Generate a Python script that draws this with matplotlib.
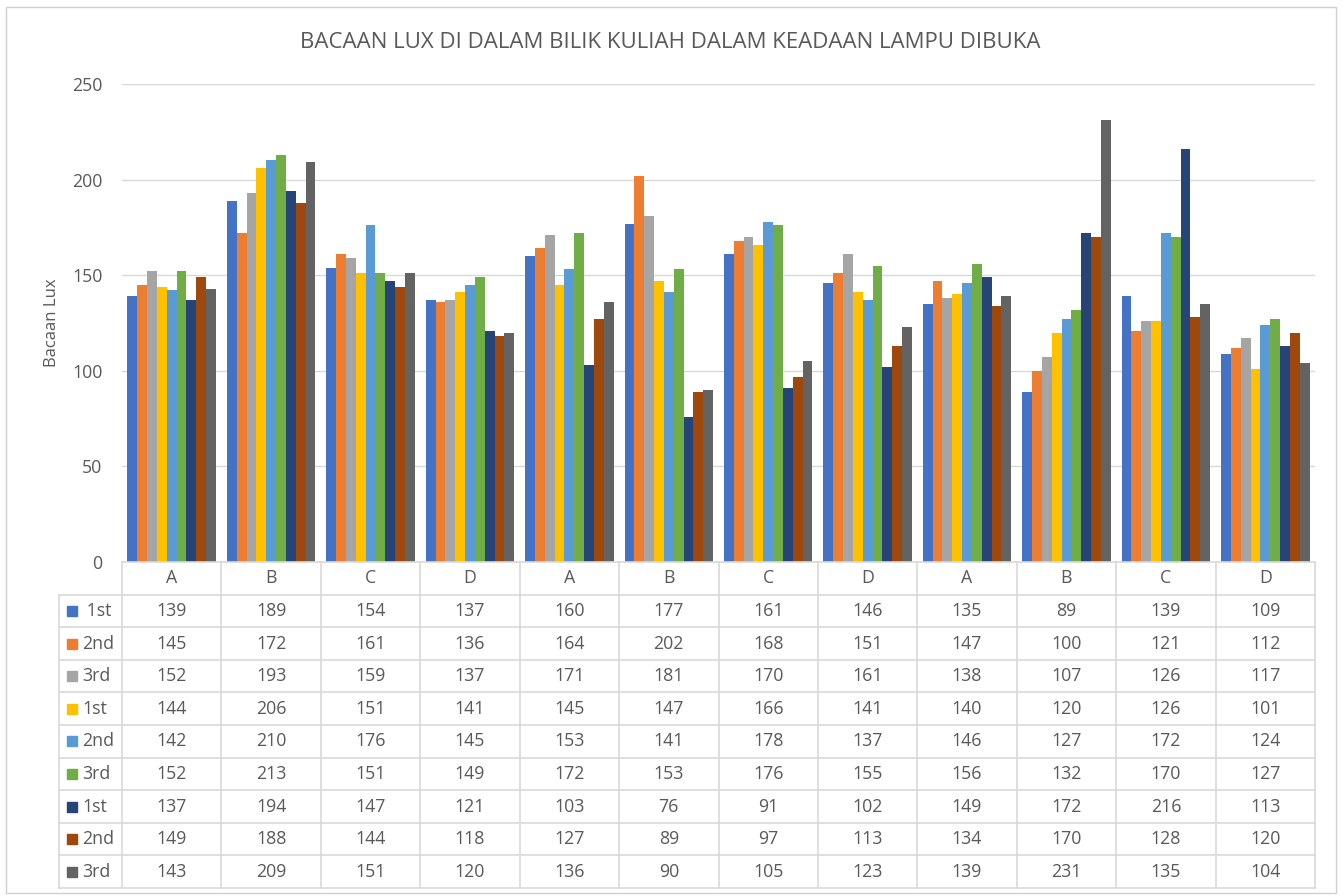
import matplotlib
matplotlib.use("Agg")
import matplotlib.pyplot as plt
from matplotlib.patches import Rectangle

plt.rcParams['font.family'] = ['Open Sans', 'DejaVu Sans']

# lux readings per position, three lecture halls of four positions each
categories = ['A', 'B', 'C', 'D', 'A', 'B', 'C', 'D', 'A', 'B', 'C', 'D']
series_names = [' 1st', '2nd', '3rd', '1st', '2nd', '3rd', '1st', '2nd', '3rd']

s1 = [139, 189, 154, 137, 160, 177, 161, 146, 135, 89, 139, 109]
s2 = [145, 172, 161, 136, 164, 202, 168, 151, 147, 100, 121, 112]
s3 = [152, 193, 159, 137, 171, 181, 170, 161, 138, 107, 126, 117]
s4 = [144, 206, 151, 141, 145, 147, 166, 141, 140, 120, 126, 101]
s5 = [142, 210, 176, 145, 153, 141, 178, 137, 146, 127, 172, 124]
s6 = [152, 213, 151, 149, 172, 153, 176, 155, 156, 132, 170, 127]
s7 = [137, 194, 147, 121, 103, 76, 91, 102, 149, 172, 216, 113]
s8 = [149, 188, 144, 118, 127, 89, 97, 113, 134, 170, 128, 120]
s9 = [143, 209, 151, 120, 136, 90, 105, 123, 139, 231, 135, 104]
series = [s1, s2, s3, s4, s5, s6, s7, s8, s9]

colors = ['#4472C4', '#ED7D31', '#A5A5A5', '#FFC000', '#5B9BD5',
          '#70AD47', '#264478', '#9E480E', '#636363']

TXT = '#595959'
GRID = '#D9D9D9'
W, H = 1343, 896
FS = 12.8


def box(x0, y0, x1, y1):
    # pixel box (top-left origin) -> figure fraction rect
    return [x0 / W, 1 - y1 / H, (x1 - x0) / W, (y1 - y0) / H]


fig = plt.figure(figsize=(W / 100, H / 100), dpi=100)
fig.patches.append(Rectangle((6 / W, 1 - 893 / H), 1330 / W, 886 / H,
                             transform=fig.transFigure, fill=False,
                             edgecolor='#D0D0D0', linewidth=1))

fig.text(670 / W, 1 - 43 / H, 'BACAAN LUX DI DALAM BILIK KULIAH DALAM KEADAAN LAMPU DIBUKA',
         ha='center', va='center', fontsize=16, color=TXT)

# bar chart
plot_l, plot_r, plot_t, plot_b = 122, 1315, 84, 562
ax = fig.add_axes(box(plot_l, plot_t, plot_r, plot_b))
n = len(series)
bw = 0.89 / n
x = range(len(categories))
for k, vals in enumerate(series):
    pos = [i - 0.445 + bw * (k + 0.5) for i in x]
    ax.bar(pos, vals, width=bw, color=colors[k], zorder=3)
ax.set_xlim(-0.5, len(categories) - 0.5)
ax.set_ylim(0, 250)
ax.set_yticks(range(0, 251, 50))
ax.yaxis.grid(True, color=GRID, linewidth=1, zorder=0)
ax.tick_params(axis='y', length=0, labelsize=FS, labelcolor=TXT, pad=14)
ax.set_xticks([])
for sp in ax.spines.values():
    sp.set_visible(False)
ax.set_ylabel('Bacaan Lux', fontsize=12, color=TXT, labelpad=9)

# data table underneath, in column units
col_px = (plot_r - plot_l) / len(categories)
lab_w = (plot_l - 59) / col_px
left = -0.5 - lab_w
tab = fig.add_axes(box(59, plot_b, plot_r, 888))
tab.set_xlim(left, len(categories) - 0.5)
tab.set_ylim(n + 1, 0)
tab.axis('off')

right = len(categories) - 0.5
tab.plot([-0.5, right], [0, 0], color=GRID, lw=1.2, clip_on=False)
for r in range(1, n + 2):
    tab.plot([left, right], [r, r], color=GRID, lw=1.2, clip_on=False)
for c in range(len(categories) + 1):
    tab.plot([c - 0.5, c - 0.5], [0, n + 1], color=GRID, lw=1.2, clip_on=False)
tab.plot([left, left], [1, n + 1], color=GRID, lw=1.2, clip_on=False)

for i, cat in enumerate(categories):
    tab.text(i, 0.5, cat, ha='center', va='center', fontsize=FS, color=TXT)
for k, (name, vals) in enumerate(zip(series_names, series)):
    r = k + 1.5
    tab.plot([left + 13 / col_px], [r], marker='s', markersize=7,
             color=colors[k], clip_on=False)
    tab.text(left + 23 / col_px, r, name, ha='left', va='center',
             fontsize=FS, color=TXT)
    for i, v in enumerate(vals):
        tab.text(i, r, str(v), ha='center', va='center', fontsize=FS, color=TXT)

fig.savefig('out.png', dpi=100)
